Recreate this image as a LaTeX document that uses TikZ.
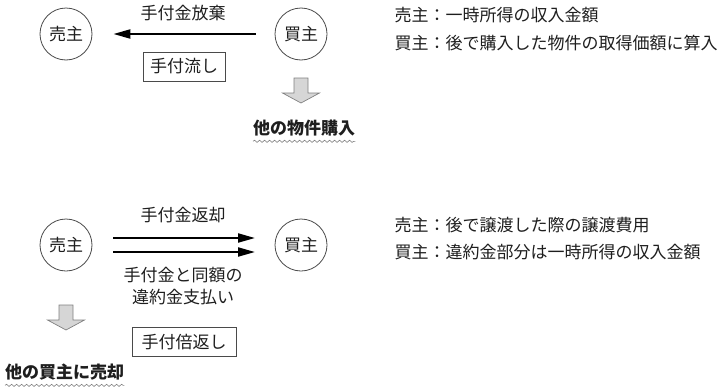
\documentclass[tikz,border=0pt]{standalone}
\usepackage{fontspec}
\setmainfont{Noto Sans CJK JP}
\usetikzlibrary{arrows.meta, positioning, decorations.pathmorphing}
\definecolor{inkgray}{HTML}{1E1E1E}
\definecolor{rimgray}{HTML}{4A4A4A}
\definecolor{padgray}{HTML}{D6D6D6}

\begin{document}
\begin{tikzpicture}[x=1pt, y=-1pt, font=\fontsize{17}{22}\selectfont, text=inkgray,
    party/.style={draw=rimgray, line width=0.8pt, circle, minimum size=52pt, inner sep=0pt},
    termbox/.style={draw=rimgray, line width=0.8pt, inner xsep=7pt, minimum height=29pt},
    money/.style={line width=2.2pt, -{Triangle[length=17pt, width=9pt]}},
    result/.style={font=\fontsize{17}{22}\selectfont\bfseries, inner sep=0pt},
    wavy/.style={gray, line width=0.6pt, decorate, decoration={snake, segment length=5pt, amplitude=1.1pt}},
    blockdown/.style={draw=gray, fill=padgray, line width=0.7pt, line join=miter}]
  \useasboundingbox (0,0) rectangle (728,391);

  % forfeit of the deposit by the buyer
  \node[party] (seller1) at (66,34) {売主};
  \node[party] (buyer1) at (301,34) {買主};
  \draw[money, shorten <=19pt, shorten >=21pt] (buyer1) -- (seller1);
  \node (forfeit) at (183,13) {手付金放棄};
  \node[termbox] (lapse) at (184,66.5) {手付流し};
  \coordinate (down1) at (301,78);
  \draw[blockdown] (down1) ++(-7,0) -- ++(14,0) -- ++(0,15) -- ++(11.5,0)
    -- ++(-18.5,10) -- ++(-18.5,-10) -- ++(11.5,0) -- cycle;
  \node[result, anchor=west] (other1) at (253,128) {他の物件購入};
  \draw[wavy] ([yshift=-5pt]other1.south west) -- ([yshift=-5pt]other1.south east);
  \node[anchor=west] (tax1) at (391,15) {売主：一時所得の収入金額};
  \node[anchor=west] (tax2) at (391,43) {買主：後で購入した物件の取得価額に算入};

  % seller returns double the deposit
  \node[party] (seller2) at (66,245) {売主};
  \node[party] (buyer2) at (301,245) {買主};
  \draw[money, line width=2pt, shorten <=47pt, shorten >=46pt] ([yshift=7pt]seller2.center) -- ([yshift=7pt]buyer2.center);
  \draw[money, line width=2pt, shorten <=47pt, shorten >=46pt] ([yshift=-7pt]seller2.center) -- ([yshift=-7pt]buyer2.center);
  \node (refund) at (183,215) {手付金返却};
  \node[align=center] (penalty) at (183,286) {手付金と同額の\\違約金支払い};
  \node[termbox, inner xsep=9.5pt] (double) at (184,342) {手付倍返し};
  \coordinate (down2) at (66,305);
  \draw[blockdown] (down2) ++(-7,0) -- ++(14,0) -- ++(0,15) -- ++(11.5,0)
    -- ++(-18.5,10) -- ++(-18.5,-10) -- ++(11.5,0) -- cycle;
  \node[result, anchor=west] (other2) at (5,372) {他の買主に売却};
  \draw[wavy] ([yshift=-5pt]other2.south west) -- ([yshift=-5pt]other2.south east);
  \node[anchor=west] (tax3) at (391,225) {売主：後で譲渡した際の譲渡費用};
  \node[anchor=west] (tax4) at (391,252) {買主：違約金部分は一時所得の収入金額};
\end{tikzpicture}
\end{document}
